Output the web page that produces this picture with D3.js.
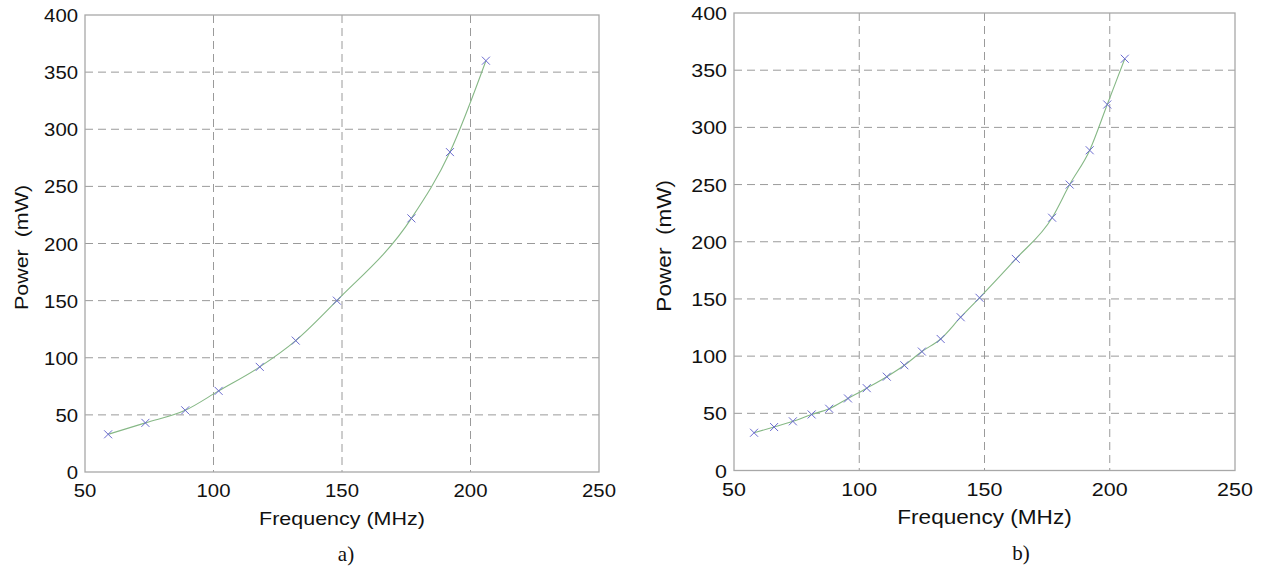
<!DOCTYPE html>
<html>
<head>
<meta charset="utf-8">
<style>
  body { margin: 0; background: #fff; }
  text { font-family: "Liberation Sans", Arial, sans-serif; fill: #111; white-space: pre; }
  .grid line { stroke: #9a9a9a; stroke-dasharray: 8,5; stroke-width: 1; }
  .frame { fill: none; stroke: #a8a8a8; stroke-width: 1.3; }
  .curve { fill: none; stroke: #86b886; stroke-width: 1.1; }
  .mark { stroke: #6b6bd0; stroke-width: 1; }
  .cap { font-family: "Liberation Serif", "Times New Roman", serif; font-size: 21px; }
</style>
</head>
<body>
<svg id="chart" width="1266" height="570"></svg>
<script src="https://d3js.org/d3.v7.min.js"></script>
<script>
// panel a)
var freqA  = [59, 73.5, 89, 102, 118, 132, 148, 177, 192, 206];
var powerA = [33, 43, 54, 71, 92, 115, 150, 222, 280, 360];
// panel b)
var freqB  = [58, 66, 73.5, 81, 88, 95.5, 103, 111, 118, 125, 132.5, 140.5, 148, 162.5, 177, 184, 192, 199, 206];
var powerB = [33, 38, 43, 49, 54, 63, 72, 82, 92, 104, 115, 134, 151, 185, 221, 250, 280, 320, 360];

var xTicks = [50, 100, 150, 200, 250];
var yTicks = [0, 50, 100, 150, 200, 250, 300, 350, 400];
var xTitle = "Frequency (MHz)";
var yTitle = "Power  (mW)";

var svg = d3.select("#chart");
var stretch = 1.13;   // the source glyphs are a bit wide

function put(g, x, y, txt, size, anchor, rot) {
  return g.append("text")
      .attr("transform", "translate(" + x + "," + y + ")" + (rot ? " rotate(-90)" : "") + " scale(" + stretch + ",1)")
      .attr("text-anchor", anchor).style("font-size", size + "px")
      .text(txt);
}

function panel(box, freq, power, caption) {
  var x = d3.scaleLinear().domain([50, 250]).range([box.left, box.right]);
  var y = d3.scaleLinear().domain([0, 400]).range([box.bottom, box.top]);
  var g = svg.append("g");

  var grid = g.append("g").attr("class", "grid");
  grid.selectAll("line.v").data(xTicks.slice(1, -1)).enter().append("line")
      .attr("x1", d => x(d)).attr("x2", d => x(d))
      .attr("y1", box.top).attr("y2", box.bottom);
  grid.selectAll("line.h").data(yTicks.slice(1, -1)).enter().append("line")
      .attr("y1", d => y(d)).attr("y2", d => y(d))
      .attr("x1", box.left).attr("x2", box.right);

  g.append("rect").attr("class", "frame")
      .attr("x", box.left).attr("y", box.top)
      .attr("width", box.right - box.left).attr("height", box.bottom - box.top);

  xTicks.forEach(t => put(g, x(t), box.bottom + 25, t, box.fs, "middle"));
  yTicks.forEach(t => put(g, box.left - 7, y(t) + 7, t, box.fs, "end"));

  put(g, (box.left + box.right) / 2, box.bottom + 53, xTitle, box.fs + 1, "middle");
  put(g, box.left - box.yl, (box.top + box.bottom) / 2 + 4, yTitle, box.fs + 1, "middle", true);
  g.append("text").attr("class", "cap")
      .attr("x", box.capX).attr("y", box.bottom + 89)
      .attr("text-anchor", "middle").text(caption);

  var pts = freq.map((f, i) => [f, power[i]]);
  var line = d3.line().x(d => x(d[0])).y(d => y(d[1])).curve(d3.curveMonotoneX);
  g.append("path").attr("class", "curve").attr("d", line(pts));

  var s = 4;
  var m = g.selectAll("g.m").data(pts).enter().append("g")
      .attr("transform", d => "translate(" + x(d[0]) + "," + y(d[1]) + ")");
  m.append("line").attr("class", "mark").attr("x1", -s).attr("y1", -s).attr("x2", s).attr("y2", s);
  m.append("line").attr("class", "mark").attr("x1", -s).attr("y1", s).attr("x2", s).attr("y2", -s);
}

panel({left: 85, right: 599, top: 15, bottom: 472, capX: 346, fs: 18, yl: 57}, freqA, powerA, "a)");
panel({left: 734, right: 1235, top: 13, bottom: 470.5, capX: 1021, fs: 19, yl: 63}, freqB, powerB, "b)");
</script>
</body>
</html>
